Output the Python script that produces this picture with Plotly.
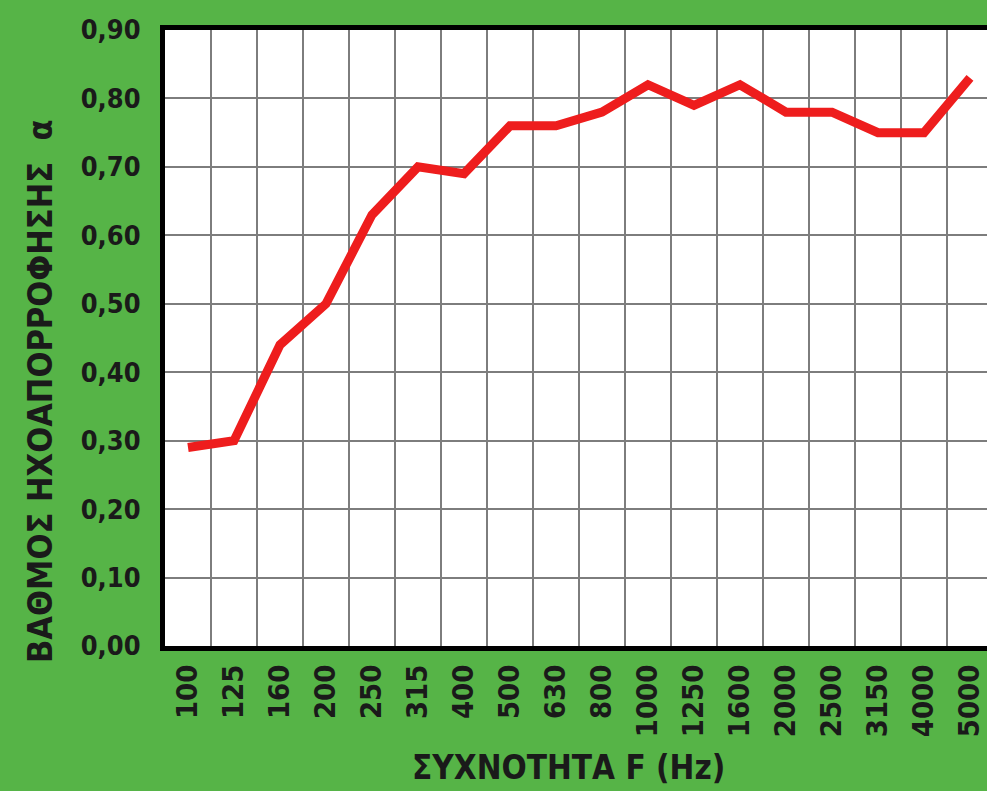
import plotly.graph_objects as go

freqs = ["100", "125", "160", "200", "250", "315", "400", "500", "630", "800",
         "1000", "1250", "1600", "2000", "2500", "3150", "4000", "5000"]
alpha = [0.29, 0.30, 0.44, 0.50, 0.63, 0.70, 0.69, 0.76, 0.76, 0.78,
         0.82, 0.79, 0.82, 0.78, 0.78, 0.75, 0.75, 0.83]
y_ticks = [0.0, 0.1, 0.2, 0.3, 0.4, 0.5, 0.6, 0.7, 0.8, 0.9]

GREEN = "#56B447"
FONT = "DejaVu Sans Condensed, Liberation Sans Narrow, sans-serif"
INK = "#1a1a1a"

fig = go.Figure()
fig.add_trace(go.Scatter(
    x=freqs, y=alpha, mode="lines",
    line=dict(color="#EE1D1D", width=9),
    hoverinfo="x+y",
))

fig.update_layout(
    width=987, height=791,
    paper_bgcolor=GREEN, plot_bgcolor="white",
    margin=dict(l=165, r=0, t=30, b=145),
    separators=", ",
    showlegend=False,
    font=dict(family=FONT, color=INK),
    xaxis=dict(
        type="category", range=[-0.5, 17.37],
        tickson="boundaries", ticks="",
        showgrid=True, gridcolor="#7d7d7d", gridwidth=2,
        showline=True, linecolor="black", linewidth=5, mirror=True,
        tickangle=-90, tickfont=dict(size=29, family=FONT, color=INK, weight="bold"),
        ticklabelstandoff=2, automargin=False, zeroline=False,
    ),
    yaxis=dict(
        range=[0, 0.9], tickvals=y_ticks, tickformat=".2f",
        showgrid=True, gridcolor="#7d7d7d", gridwidth=2,
        showline=True, linecolor="black", linewidth=5,
        ticks="", tickfont=dict(size=27, family=FONT, color=INK, weight="bold"),
        ticklabelstandoff=14, automargin=False, zeroline=False,
    ),
    annotations=[
        dict(text="ΒΑΘΜΟΣ ΗΧΟΑΠΟΡΡΟΦΗΣΗΣ  α", xref="paper", yref="paper",
             x=-0.152, y=0.414, xanchor="center", yanchor="middle",
             textangle=-90, showarrow=False,
             font=dict(size=34, family=FONT, color=INK, weight="bold")),
        dict(text="ΣΥΧΝΟΤΗΤΑ F (Hz)", xref="paper", yref="paper",
             x=0.491, y=-0.198, xanchor="center", yanchor="middle",
             showarrow=False,
             font=dict(size=33, family=FONT, color=INK, weight="bold")),
    ],
)

fig.write_html("out.html", config={"displayModeBar": False},
               post_script="document.body.style.margin='0';document.body.style.overflow='hidden';")
